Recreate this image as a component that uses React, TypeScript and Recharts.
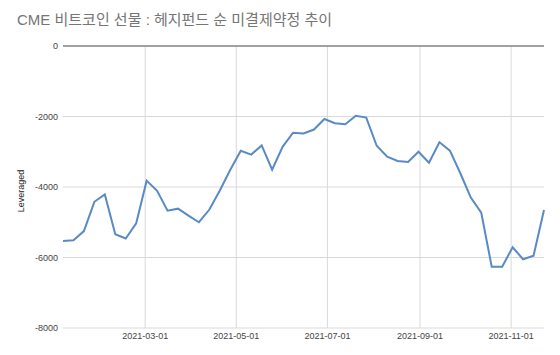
import React from 'react';
import { LineChart, Line, XAxis, YAxis, CartesianGrid, ReferenceLine } from 'recharts';

const title = 'CME 비트코인 선물 : 헤지펀드 순 미결제약정 추이';
const yAxisTitle = 'Leveraged';

const dates = [
  '2021-01-05', '2021-01-12', '2021-01-19', '2021-01-26', '2021-02-02', '2021-02-09',
  '2021-02-16', '2021-02-23', '2021-03-02', '2021-03-09', '2021-03-16', '2021-03-23',
  '2021-03-30', '2021-04-06', '2021-04-13', '2021-04-20', '2021-04-27', '2021-05-04',
  '2021-05-11', '2021-05-18', '2021-05-25', '2021-06-01', '2021-06-08', '2021-06-15',
  '2021-06-22', '2021-06-29', '2021-07-06', '2021-07-13', '2021-07-20', '2021-07-27',
  '2021-08-03', '2021-08-10', '2021-08-17', '2021-08-24', '2021-08-31', '2021-09-07',
  '2021-09-14', '2021-09-21', '2021-09-28', '2021-10-05', '2021-10-12', '2021-10-19',
  '2021-10-26', '2021-11-02', '2021-11-09', '2021-11-16', '2021-11-23',
];

const leveraged = [
  -5530, -5510, -5250, -4420, -4210, -5340,
  -5460, -5030, -3820, -4110, -4670, -4615,
  -4810, -5000, -4640, -4100, -3510, -2970,
  -3080, -2820, -3510, -2860, -2460, -2480,
  -2370, -2070, -2190, -2220, -1980, -2030,
  -2830, -3140, -3260, -3290, -3000, -3310,
  -2730, -2970, -3610, -4300, -4730, -6260,
  -6260, -5710, -6050, -5950, -4650,
];

const xTickLabels = ['2021-03-01', '2021-05-01', '2021-07-01', '2021-09-01', '2021-11-01'];
const yTicks = [0, -2000, -4000, -6000, -8000];

const toTime = (s: string) => Date.parse(s + 'T00:00:00Z');

const data = dates.map((d, i) => ({ t: toTime(d), v: leveraged[i] }));
const xTicks = xTickLabels.map(toTime);

const fmt = (ms: number) => new Date(ms).toISOString().slice(0, 10);

const font = '"Liberation Sans", Arial, "Noto Sans CJK KR", sans-serif';

export default function App() {
  return (
    <div style={{ position: 'absolute', left: 0, top: 0, width: 560, height: 355, background: '#fff', fontFamily: font }}>
      <div
        style={{
          position: 'absolute',
          left: 17,
          top: 11,
          fontSize: 15,
          lineHeight: '18px',
          color: '#757575',
          fontFamily: font,
          whiteSpace: 'nowrap',
        }}
      >
        {title}
      </div>
      <LineChart width={560} height={355} data={data} margin={{ top: 46, right: 16, bottom: 7, left: 0 }}>
        <CartesianGrid stroke="#d9d9d9" strokeWidth={1} vertical={false} horizontal={true} />
        {xTicks.map((t) => (
          <ReferenceLine key={t} x={t} stroke="#d9d9d9" strokeWidth={1} />
        ))}
        <XAxis
          dataKey="t"
          type="number"
          scale="time"
          domain={[data[0].t, data[data.length - 1].t]}
          ticks={xTicks}
          tickFormatter={fmt}
          axisLine={false}
          tickLine={false}
          tickSize={0}
          tickMargin={5}
          height={20}
          tick={{ fontSize: 9, fill: '#444', fontFamily: font }}
          interval={0}
        />
        <YAxis
          type="number"
          domain={[-8000, 0]}
          ticks={yTicks}
          axisLine={false}
          tickLine={false}
          tickSize={0}
          tickMargin={5}
          width={63}
          interval={0}
          tick={{ fontSize: 9, fill: '#444', fontFamily: font }}
          label={{
            content: (props: any) => {
              const vb = props.viewBox || { x: 0, y: 46, width: 63, height: 282 };
              const cx = 21;
              const cy = vb.y + vb.height / 2 + 4;
              return (
                <text
                  x={cx}
                  y={cy}
                  transform={`rotate(-90 ${cx} ${cy})`}
                  textAnchor="middle"
                  dominantBaseline="central"
                  fontSize={9}
                  fill="#222"
                  fontFamily={font}
                >
                  {yAxisTitle}
                </text>
              );
            },
          }}
        />
        <ReferenceLine y={0} stroke="#888" strokeWidth={1.5} />
        <Line
          type="linear"
          dataKey="v"
          stroke="#5a8ac6"
          strokeWidth={2}
          dot={false}
          isAnimationActive={false}
        />
      </LineChart>
    </div>
  );
}
